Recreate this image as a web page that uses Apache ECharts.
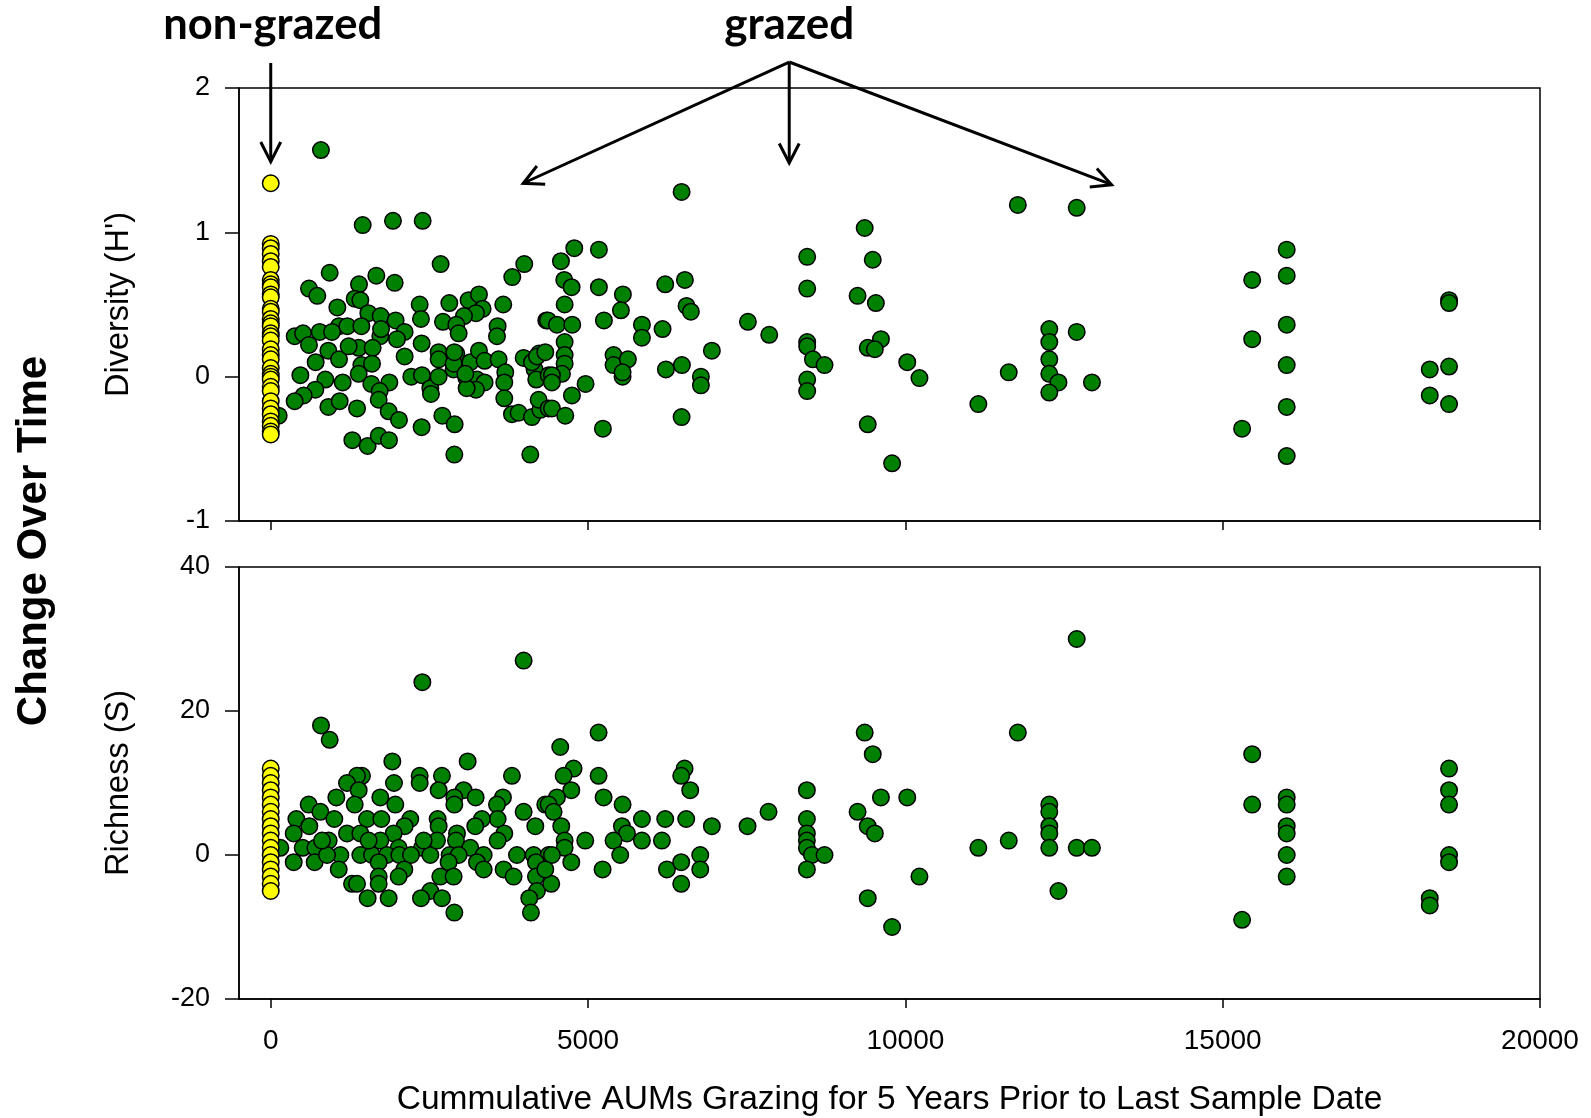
<!DOCTYPE html>
<html><head><meta charset="utf-8">
<script src="https://cdn.jsdelivr.net/npm/echarts@6/dist/echarts.min.js"></script>
<style>html,body{margin:0;padding:0;background:#fff}#c{width:1591px;height:1118px}</style>
</head><body><div id="c"></div>
<script>
// ---------- data ----------
const xTicks = [0, 5000, 10000, 15000, 20000];
const diversityTicks = [-1, 0, 1, 2];
const richnessTicks = [-20, 0, 20, 40];

// Diversity (H') change, grazed plots: [AUMs, H']
const diversityGrazed = [
[1449,1.05],[1926,1.08],[2394,1.08],[2677,0.78],[3995,0.78],[3806,0.69],[929,0.72],[1664,0.70],[1953,0.65],[603,0.61],
[734,0.56],[1391,0.64],[1323,0.54],[1412,0.53],[1050,0.48],[1538,0.44],[1732,0.42],[1968,0.39],[2347,0.50],[2367,0.40],
[2814,0.51],[3118,0.53],[3281,0.57],[3339,0.47],[3234,0.44],[3045,0.42],[3664,0.50],[3575,0.35],[3565,0.28],[2714,0.38],
[2924,0.36],[2961,0.30],[4342,0.39],[377,0.28],[509,0.30],[771,0.31],[603,0.22],[1076,0.35],[1207,0.35],[1428,0.35],
[1727,0.28],[1738,0.33],[2110,0.31],[1989,0.26],[2378,0.23],[1386,0.20],[1606,0.20],[908,0.18],[1076,0.12],[708,0.10],
[2110,0.14],[2646,0.17],[2646,0.12],[2924,0.16],[3145,0.10],[3281,0.18],[3370,0.11],[3591,0.12],[3696,0.03],[3680,-0.04],
[3680,-0.15],[3985,0.13],[4227,0.16],[4158,0.05],[4184,-0.02],[4379,0.01],[1428,0.08],[1596,0.09],[1386,0.02],[467,0.01],
[861,-0.02],[1134,-0.04],[1585,-0.05],[1869,-0.04],[1717,-0.10],[1701,-0.16],[703,-0.09],[519,-0.13],[377,-0.17],[908,-0.21],
[1086,-0.17],[1360,-0.22],[1858,-0.24],[2021,-0.30],[2215,0.00],[2383,0.01],[2515,-0.08],[2525,-0.12],[2646,0.00],[2882,0.05],
[3082,-0.01],[3250,-0.02],[3370,-0.04],[3234,-0.09],[3087,-0.08],[2704,-0.27],[2898,-0.33],[2378,-0.35],[1286,-0.44],[1527,-0.48],
[1701,-0.41],[1863,-0.44],[2893,-0.54],[4090,-0.54],[3801,-0.26],[3906,-0.25],[4116,-0.28],[4248,-0.23],[4221,-0.16],[4379,-0.22],
[125,-0.27],[2882,0.09],[2893,0.17],[4116,0.10],[4195,0.14],[3066,0.02],[1228,0.21],[966,0.31],[791,1.57],
[6474,1.28],[4783,0.89],[5171,0.88],[4573,0.80],[4625,0.67],[4741,0.62],[5171,0.62],[5549,0.57],[5518,0.46],[6216,0.64],
[6526,0.67],[6552,0.49],[6620,0.45],[4631,0.50],[4368,0.39],[4510,0.36],[4751,0.36],[5250,0.39],[5849,0.36],[5849,0.27],
[6174,0.33],[7519,0.38],[7855,0.29],[8453,0.83],[8453,0.61],[8453,0.24],[8453,0.21],[8543,0.12],[8726,0.08],[8453,-0.02],
[8453,-0.10],[6951,0.18],[4631,0.24],[4631,0.15],[4631,0.09],[4589,0.02],[4431,0.01],[4431,-0.04],[5402,0.15],[5402,0.08],
[5628,0.12],[5544,0.00],[5544,0.03],[6227,0.05],[6479,0.08],[6778,0.00],[6778,-0.06],[4961,-0.05],[4746,-0.13],[4431,-0.22],
[4641,-0.27],[5234,-0.36],[6474,-0.28],[4326,0.17],
[9359,1.03],[9486,0.81],[9247,0.56],[9535,0.51],[9615,0.26],[9407,0.20],[9519,0.19],[10030,0.10],[10222,-0.01],[9407,-0.33],
[9791,-0.60],[11150,-0.19],[11629,0.03],[11772,1.19],[12700,1.17],[12268,0.33],[12268,0.24],[12268,0.12],[12268,0.02],[12412,-0.04],
[12268,-0.11],[12700,0.31],[12940,-0.04],[15306,-0.36],[15465,0.67],[15465,0.26],[16009,0.88],[16009,0.70],[16009,0.36],[16009,0.08],
[16009,-0.21],[16009,-0.55],[18263,0.05],[18263,-0.13],[18567,0.53],[18567,0.51],[18567,0.07],[18567,-0.19]
];
// Diversity change, non-grazed plots (AUMs = 0)
const diversityNonGrazed = [1.34,0.92,0.89,0.85,0.80,0.76,0.67,0.64,0.62,0.57,0.55,0.47,0.45,0.40,0.37,0.35,0.30,0.28,0.25,0.19,
0.15,0.12,0.06,0.02,0.00,-0.02,-0.07,-0.10,-0.17,-0.22,-0.26,-0.31,-0.34,-0.38,-0.40];

// Richness (S) change, grazed plots: [AUMs, S]
const richnessGrazed = [
[3985,27],[2389,24],[792,18],[929,16],[1916,13],[3103,13],[3801,11],[2347,11],[2698,11],[2347,10],[1942,10],[1438,11],[1359,11],
[1202,10],[1386,9],[2646,9],[3040,9],[3229,8],[1034,8],[1727,8],[598,7],[1323,7],[1963,7],[2893,8],[2893,7],[3659,8],[3565,7],
[4326,7],[3985,6],[404,5],[782,6],[1002,5],[1517,5],[1743,5],[2199,5],[2630,5],[3575,5],[3328,5],[608,4],[362,3],[1202,3],
[1412,3],[2110,4],[1937,3],[2646,4],[3223,4],[4169,4],[2935,3],[3680,3],[913,2],[1727,2],[2919,2],[3575,2],[503,1],[152,1],
[703,1],[2016,1],[2383,1],[3145,1],[1412,0],[1596,0],[1832,0],[2026,0],[2210,0],[2515,0],[2819,0],[2961,0],[3355,0],[3880,0],
[4142,0],[4379,0],[1097,0],[362,-1],[692,-1],[1071,-2],[1701,-1],[2105,-2],[2803,-1],[3250,-1],[3670,-2],[4179,-1],[3355,-2],
[1701,-3],[2016,-3],[2672,-3],[2882,-3],[3827,-3],[4179,-3],[1281,-4],[1360,-4],[1701,-4],[2515,-5],[4195,-5],[1527,-6],
[1858,-6],[2368,-6],[2698,-6],[4074,-6],[2893,-8],[4100,-8],[887,0],[808,2],[1543,2],[2620,2],[2410,2],
[5166,17],[4562,15],[4772,12],[4615,11],[5166,11],[6521,12],[6468,11],[6610,9],[4736,9],[4510,8],[4379,7],[4457,6],[5245,8],
[5544,7],[4578,4],[5849,5],[6216,5],[6547,5],[6951,4],[7513,4],[7844,6],[8448,9],[8448,5],[8448,3],[8448,2],[8448,1],[8527,0],
[8726,0],[8448,-2],[5534,4],[5613,3],[5402,2],[5849,2],[6164,2],[4956,2],[4631,2],[4631,1],[4431,0],[4736,-1],[5507,0],
[5229,-2],[6243,-2],[6468,-1],[6768,0],[6768,-2],[6468,-4],[4420,-4],[4326,-2],
[9359,17],[9486,14],[9247,6],[9615,8],[9407,4],[9519,3],[10030,8],[10222,-3],[9407,-6],[9791,-10],[11150,1],[11629,2],
[11772,17],[12700,30],[12268,7],[12268,6],[12268,4],[12268,3],[12268,1],[12412,-5],[12700,1],[12940,1],[15306,-9],[15465,14],
[15465,7],[16009,8],[16009,7],[16009,4],[16009,3],[16009,0],[16009,-3],[18263,-6],[18263,-7],[18567,12],[18567,9],[18567,7],
[18567,0],[18567,-1]
];
// Richness change, non-grazed plots (AUMs = 0)
const richnessNonGrazed = [12,11,10,9,8,7,6,5,4,3,2,1,0,-1,-2,-3,-4,-5];

// ---------- annotations (data coordinates of top panel) ----------
const arrowsTop = [
  {from:[0,2.173], to:[0,1.49]},
  {from:[8170,2.18], to:[8170,1.48]},
  {from:[8170,2.18], to:[3978,1.34]},
  {from:[8170,2.18], to:[13250,1.33]}
];

// ---------- chart ----------
const chart = echarts.init(document.getElementById('c'), null, {renderer:'canvas'});
const FONT = '"Liberation Sans", Arial, sans-serif';
const BLACK = '#000';
const plain = v => String(v);

function xAxisCfg(grid, showLabels){
  return {
    gridIndex: grid, type:'value', min:-500, max:20000,
    axisLine:{show:true, onZero:false, lineStyle:{color:BLACK, width:1.5}},
    axisTick:{show:true, customValues:xTicks, length:9, lineStyle:{color:BLACK, width:1.5}},
    axisLabel:{show:showLabels, customValues:xTicks, formatter:plain, color:BLACK, fontSize:28, fontFamily:FONT, margin:28},
    splitLine:{show:false},
    name: showLabels ? 'Cummulative AUMs Grazing for 5 Years Prior to Last Sample Date' : '',
    nameLocation:'middle', nameGap:84,
    nameTextStyle:{color:BLACK, fontSize:33.5, fontFamily:FONT}
  };
}
function yAxisCfg(grid, ticks, name){
  return {
    gridIndex: grid, type:'value', min:ticks[0], max:ticks[ticks.length-1], interval:ticks[1]-ticks[0],
    axisLine:{show:true, onZero:false, lineStyle:{color:BLACK, width:1.5}},
    axisTick:{show:true, length:14, lineStyle:{color:BLACK, width:1.5}},
    axisLabel:{color:BLACK, fontSize:27, fontFamily:FONT, margin:29, formatter:plain},
    splitLine:{show:false},
    name:name, nameLocation:'middle', nameRotate:90, nameGap:103,
    nameTextStyle:{color:BLACK, fontSize:32.5, fontFamily:FONT}
  };
}
const green = {color:'#008000', borderColor:BLACK, borderWidth:1.5, opacity:1};
const yellow = {color:'#ffff00', borderColor:BLACK, borderWidth:1.5, opacity:1};
const SYM = 16.5;

const option = {
  backgroundColor:'#ffffff',
  animation:false,
  grid:[
    {left:239, top:88, width:1301, height:433, show:true, borderColor:BLACK, borderWidth:1.5, backgroundColor:'transparent'},
    {left:239, top:567, width:1301, height:434, show:true, borderColor:BLACK, borderWidth:1.5, backgroundColor:'transparent'}
  ],
  xAxis:[xAxisCfg(0,false), xAxisCfg(1,true)],
  yAxis:[yAxisCfg(0, diversityTicks, "Diversity (H')"), yAxisCfg(1, richnessTicks, 'Richness (S)')],
  series:[
    {type:'scatter', xAxisIndex:0, yAxisIndex:0, data:diversityGrazed, symbol:'circle', symbolSize:SYM, itemStyle:green, silent:true},
    {type:'scatter', xAxisIndex:0, yAxisIndex:0, data:diversityNonGrazed.map(v=>[0,v]), symbol:'circle', symbolSize:SYM, itemStyle:yellow, silent:true},
    {type:'scatter', xAxisIndex:1, yAxisIndex:1, data:richnessGrazed, symbol:'circle', symbolSize:SYM, itemStyle:green, silent:true},
    {type:'scatter', xAxisIndex:1, yAxisIndex:1, data:richnessNonGrazed.map(v=>[0,v]), symbol:'circle', symbolSize:SYM, itemStyle:yellow, silent:true}
  ]
};
chart.setOption(option);

// annotations: arrows and labels, positioned through the top grid's scales
const g = [];
const HEAD = 22, ANG = 27*Math.PI/180;
arrowsTop.forEach(a=>{
  const p0 = chart.convertToPixel({gridIndex:0}, a.from);
  const p1 = chart.convertToPixel({gridIndex:0}, a.to);
  const dx = p1[0]-p0[0], dy = p1[1]-p0[1];
  const ang = Math.atan2(dy, dx);
  const l = [p1[0]-HEAD*Math.cos(ang-ANG), p1[1]-HEAD*Math.sin(ang-ANG)];
  const r = [p1[0]-HEAD*Math.cos(ang+ANG), p1[1]-HEAD*Math.sin(ang+ANG)];
  g.push({type:'line', shape:{x1:p0[0],y1:p0[1],x2:p1[0],y2:p1[1]}, style:{stroke:BLACK, lineWidth:3}, z:10});
  g.push({type:'polyline', shape:{points:[l,p1,r]}, style:{stroke:BLACK, lineWidth:3, fill:null, lineJoin:'miter'}, z:10});
});
const pNon = chart.convertToPixel({gridIndex:0}, [0,2]);
const pGr = chart.convertToPixel({gridIndex:0}, [8170,2]);
g.push({type:'text', x:pNon[0]+2, y:25, style:{text:'non-grazed', font:'bold 43.5px Lato, "Open Sans", sans-serif', fill:BLACK, align:'center', verticalAlign:'middle'}, z:10});
g.push({type:'text', x:pGr[0], y:25, style:{text:'grazed', font:'bold 44px Lato, "Open Sans", sans-serif', fill:BLACK, align:'center', verticalAlign:'middle'}, z:10});
g.push({type:'text', x:34, y:541, rotation:Math.PI/2, style:{text:'Change Over Time', font:'bold 42px "Liberation Sans", Arial, sans-serif', fill:BLACK, align:'center', verticalAlign:'middle'}, z:10});
chart.setOption({graphic:g});
</script></body></html>
